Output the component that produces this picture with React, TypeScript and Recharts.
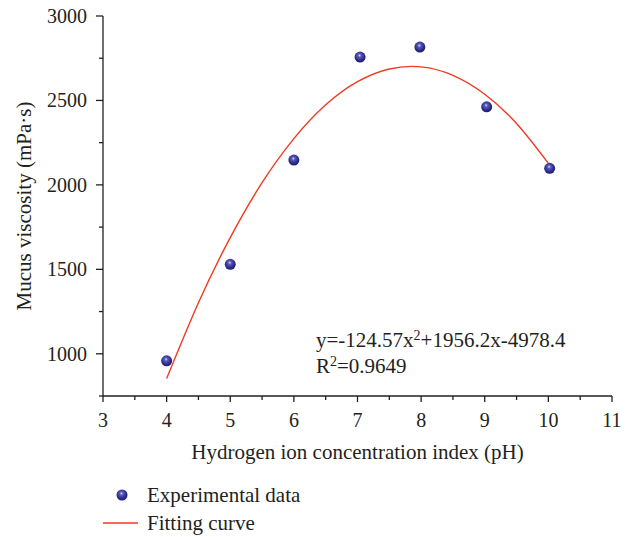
import React from "react";
import { ComposedChart, Scatter, Line, XAxis, YAxis } from "recharts";

// measured points
const phValues = [4, 5, 6, 7.04, 7.98, 9.03, 10.02];
const viscosity = [958, 1530, 2147, 2757, 2816, 2462, 2098];

// fitted curve
const fitPh = [4, 4.5, 5, 5.5, 6, 6.5, 7, 7.5, 8, 8.5, 9, 9.5, 10];
const fitViscosity = [853, 1302, 1688, 2013, 2274, 2474, 2611, 2686, 2699, 2649, 2537, 2363, 2127];

const xTicks = [3, 3.5, 4, 4.5, 5, 5.5, 6, 6.5, 7, 7.5, 8, 8.5, 9, 9.5, 10, 10.5, 11];
const yTicks = [750, 1000, 1250, 1500, 1750, 2000, 2250, 2500, 2750, 3000];

const pointData = phValues.map((ph, i) => ({ ph, v: viscosity[i] }));
const fitData = fitPh.map((ph, i) => ({ ph, v: fitViscosity[i] }));

const FONT = "'Liberation Serif', 'DejaVu Serif', serif";
const INK = "#231f20";
const RED = "#ee3b22";

const XTick = (props: any) => {
  const { x, y, payload } = props;
  const major = Number.isInteger(payload.value);
  return (
    <g>
      <line x1={x} x2={x} y1={y} y2={y + (major ? 6 : 4)} stroke={INK} strokeWidth={1.3} />
      {major && (
        <text x={x} y={y + 31} textAnchor="middle" fontSize={20} fill={INK} fontFamily={FONT}>
          {payload.value}
        </text>
      )}
    </g>
  );
};

const YTick = (props: any) => {
  const { x, y, payload } = props;
  const major = payload.value % 500 === 0;
  return (
    <g>
      <line x1={x} x2={x - (major ? 7 : 4)} y1={y} y2={y} stroke={INK} strokeWidth={1.3} />
      {major && (
        <text x={x - 16} y={y + 7} textAnchor="end" fontSize={20} fill={INK} fontFamily={FONT}>
          {payload.value}
        </text>
      )}
    </g>
  );
};

const Ball = (props: any) => {
  const { cx, cy } = props;
  return <circle cx={cx} cy={cy} r={5.5} fill="url(#ballGrad)" />;
};

const App: React.FC = () => (
  <div style={{ position: "absolute", left: 0, top: 0, width: 635, height: 537, background: "#fff", fontFamily: FONT, color: INK }}>
    <ComposedChart width={635} height={537} margin={{ top: 16, right: 23, left: 0, bottom: 71 }}>
      <defs>
        <radialGradient id="ballGrad" cx="45%" cy="40%" r="60%" fx="45%" fy="35%">
          <stop offset="0%" stopColor="#d8d8f4" />
          <stop offset="25%" stopColor="#5a5ab8" />
          <stop offset="70%" stopColor="#2c2c8e" />
          <stop offset="100%" stopColor="#1c1c66" />
        </radialGradient>
      </defs>
      <XAxis
        dataKey="ph"
        type="number"
        domain={[3, 11]}
        ticks={xTicks}
        interval={0}
        height={70}
        tickSize={0}
        tickMargin={0}
        tickLine={false}
        tick={<XTick />}
        axisLine={{ stroke: INK, strokeWidth: 1.3 }}
        allowDuplicatedCategory={false}
        label={{
          content: (p: any) => {
            const vb = p.viewBox;
            return (
              <text x={vb.x + vb.width / 2} y={vb.y + 63} textAnchor="middle" fontSize={21} fill={INK} fontFamily={FONT}>
                Hydrogen ion concentration index (pH)
              </text>
            );
          },
        }}
      />
      <YAxis
        dataKey="v"
        type="number"
        domain={[750, 3000]}
        ticks={yTicks}
        interval={0}
        width={103}
        tickSize={0}
        tickMargin={0}
        tickLine={false}
        tick={<YTick />}
        axisLine={{ stroke: INK, strokeWidth: 1.3 }}
        label={{
          content: (p: any) => {
            const vb = p.viewBox;
            const cy = vb.y + vb.height / 2;
            return (
              <text x={31} y={cy} transform={`rotate(-90, 31, ${cy})`} textAnchor="middle" fontSize={21} fill={INK} fontFamily={FONT}>
                Mucus viscosity (mPa·s)
              </text>
            );
          },
        }}
      />
      <Line
        data={fitData}
        dataKey="v"
        type="natural"
        stroke={RED}
        strokeWidth={1.4}
        dot={false}
        activeDot={false}
        isAnimationActive={false}
      />
      <Scatter data={pointData} dataKey="v" shape={<Ball />} isAnimationActive={false} />
    </ComposedChart>

    <div style={{ position: "absolute", left: 316, top: 327, fontSize: 21, lineHeight: "26px", whiteSpace: "nowrap" }}>
      <div>
        y=-124.57x<sup style={{ fontSize: 14, verticalAlign: "7px", lineHeight: 0 }}>2</sup>+1956.2x-4978.4
      </div>
      <div>
        R<sup style={{ fontSize: 14, verticalAlign: "7px", lineHeight: 0 }}>2</sup>=0.9649
      </div>
    </div>

    <div style={{ position: "absolute", left: 100, top: 481, fontSize: 21, lineHeight: "28px" }}>
      <div style={{ display: "flex", alignItems: "center" }}>
        <svg width={47} height={28}>
          <circle cx={22} cy={14} r={5.5} fill="url(#ballGrad)" />
        </svg>
        <span>Experimental data</span>
      </div>
      <div style={{ display: "flex", alignItems: "center" }}>
        <svg width={47} height={28}>
          <line x1={3} x2={38} y1={14} y2={14} stroke={RED} strokeWidth={1.4} />
        </svg>
        <span>Fitting curve</span>
      </div>
    </div>
  </div>
);

export default App;
